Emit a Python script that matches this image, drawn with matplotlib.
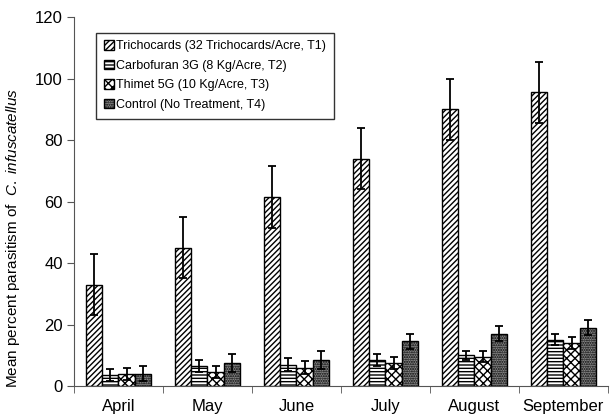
import numpy as np
import matplotlib
matplotlib.use('Agg')
import matplotlib.pyplot as plt

plt.rcParams['font.family'] = ['Liberation Sans', 'DejaVu Sans']
plt.rcParams['mathtext.fontset'] = 'custom'
plt.rcParams['mathtext.it'] = 'Liberation Sans:italic'
plt.rcParams['mathtext.rm'] = 'Liberation Sans'
plt.rcParams['hatch.linewidth'] = 1.0

months = ['April', 'May', 'June', 'July', 'August', 'September']
labels = ['Trichocards (32 Trichocards/Acre, T1)',
          'Carbofuran 3G (8 Kg/Acre, T2)',
          'Thimet 5G (10 Kg/Acre, T3)',
          'Control (No Treatment, T4)']

t1 = [33, 45, 61.5, 74, 90, 95.5]
t2 = [3.5, 6.5, 7, 8.5, 10, 15]
t3 = [4, 4.5, 6, 7.5, 9.5, 14]
t4 = [4, 7.5, 8.5, 14.5, 17, 19]
t1_err = [10, 10, 10, 10, 10, 10]
t2_err = [2, 2, 2, 2, 1.5, 1.8]
t3_err = [2, 2, 2, 1.8, 1.8, 1.8]
t4_err = [2.5, 2.8, 2.8, 2.5, 2.5, 2.5]

series = [t1, t2, t3, t4]
errs = [t1_err, t2_err, t3_err, t4_err]
hatches = ['//////', '-----', 'xxxx', '.......']
faces = ['white', 'white', 'white', '#8a8a8a']

fig = plt.figure(figsize=(6.11, 4.16), dpi=100)
ax = fig.add_axes([0.121, 0.072, 0.874, 0.887])

x = np.arange(len(months))
w = 0.185
offs = (np.arange(4) - 1.5) * w
for i in range(4):
    ax.bar(x + offs[i], series[i], w, color=faces[i], edgecolor='black',
           hatch=hatches[i], linewidth=1.0, label=labels[i], zorder=2)
    ax.errorbar(x + offs[i], series[i], yerr=errs[i], fmt='none',
                ecolor='black', elinewidth=1.3, capsize=3, capthick=1.3, zorder=3)

ax.set_xlim(-0.5, 5.5)
ax.set_ylim(0, 120)
ax.set_yticks(np.arange(0, 121, 20))
ax.set_xticks(x)
ax.set_xticklabels(months, fontsize=12)
ax.set_xticks(np.arange(-0.5, 5.6, 1), minor=True)
ax.tick_params(axis='x', which='major', length=0, pad=9)
ax.tick_params(axis='x', which='minor', length=5, direction='out', color='#555555')
ax.tick_params(axis='y', labelsize=12, length=5, direction='out', color='#555555', pad=3)
for s in ['top', 'right']:
    ax.spines[s].set_visible(False)
for s in ['left', 'bottom']:
    ax.spines[s].set_color('#555555')

ax.set_ylabel(r'Mean percent parasitism of  $\it{C.\ infuscatellus}$', fontsize=11)
ax.yaxis.set_label_coords(-0.098, 0.4)

leg = ax.legend(loc='upper left', bbox_to_anchor=(0.03, 0.975), fontsize=9,
                frameon=True, fancybox=False, edgecolor='black',
                handlelength=0.8, handleheight=0.8, handletextpad=0.2,
                labelspacing=0.6, borderpad=0.6)
leg.get_frame().set_linewidth(1.0)

fig.savefig('out.png', dpi=100)
